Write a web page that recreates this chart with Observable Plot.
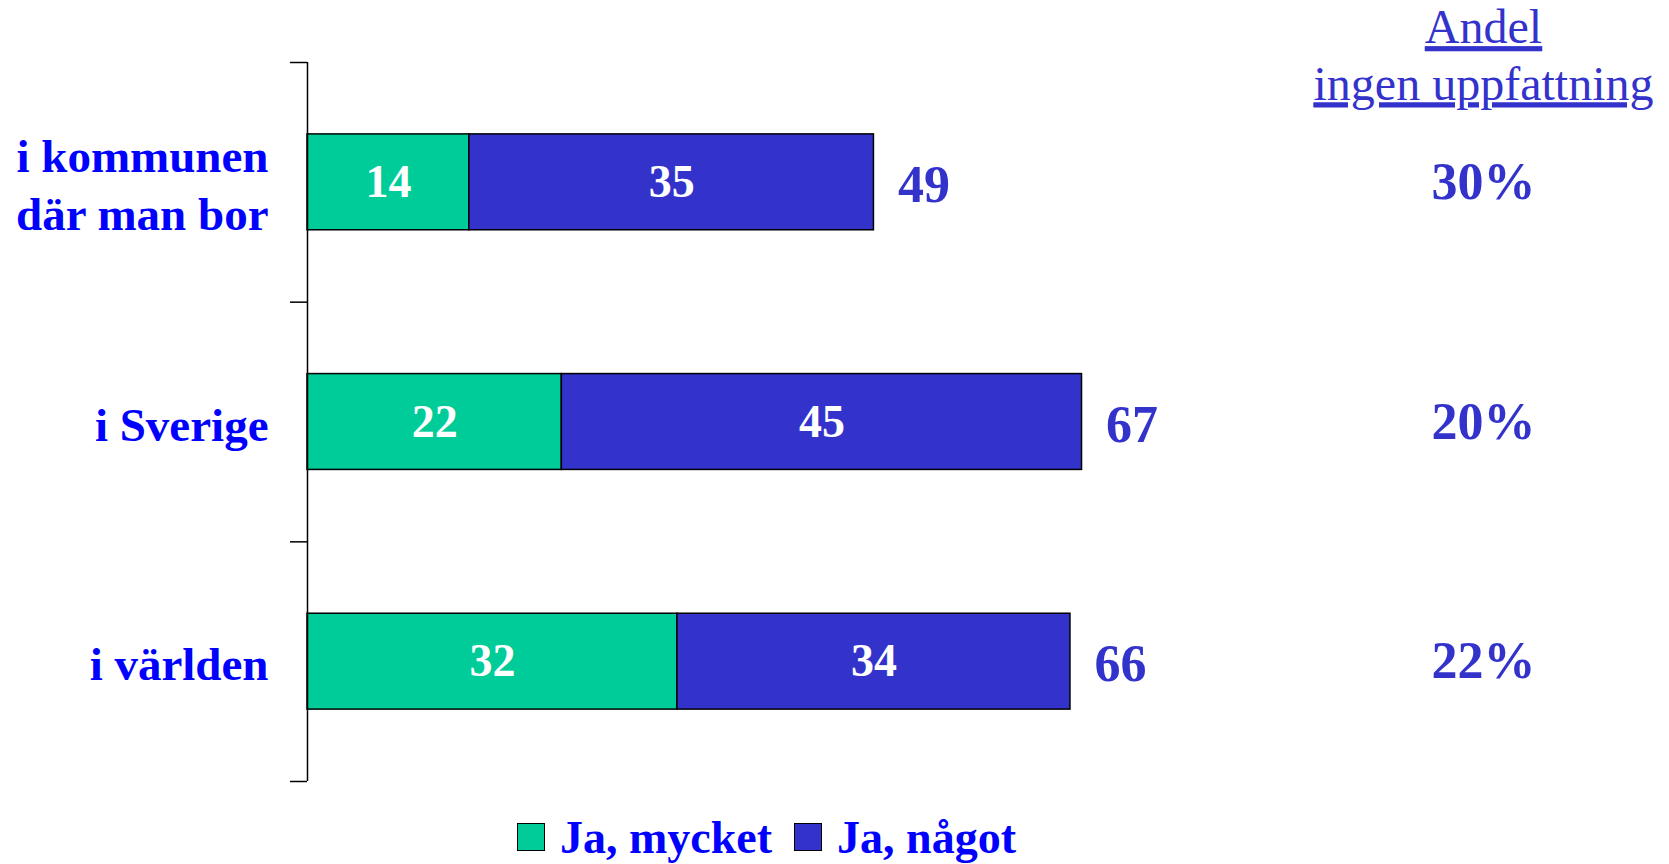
<!DOCTYPE html>
<html>
<head>
<meta charset="utf-8">
<script src="https://cdn.jsdelivr.net/npm/d3@7"></script>
<script src="https://cdn.jsdelivr.net/npm/@observablehq/plot@0.6"></script>
<style>
  html, body { margin: 0; padding: 0; background: #fff; }
  #chart svg { display: block; }
  .legend { height: 54px; display: flex; align-items: center; padding-left: 517px;
            font-family: "Liberation Serif", "Times New Roman", serif; font-weight: bold;
            font-size: 46px; color: #0000FF; }
  .legend .sw { width: 26px; height: 26px; border: 1.5px solid #000; margin-right: 15px; }
  .legend .item { display: flex; align-items: center; margin-right: 22px; }
</style>
</head>
<body>
<div id="chart"></div>
<script>
// ---- data ----
const categories = ["i kommunen\ndär man bor", "i Sverige", "i världen"];
const series = ["Ja, mycket", "Ja, något"];
const colors = ["#00CC99", "#3333CC"];
const mycket = [14, 22, 32];
const nagot = [35, 45, 34];
const totals = [49, 67, 66];
const ingenUppfattning = [30, 20, 22];
const headerText = "Andel\ningen uppfattning";

// ---- build table ----
const rows = [];
categories.forEach((c, i) => {
  rows.push({cat: c, i, series: series[0], value: mycket[i], x1: 0, x2: mycket[i]});
  rows.push({cat: c, i, series: series[1], value: nagot[i], x1: mycket[i], x2: mycket[i] + nagot[i]});
});
const totalRows = categories.map((c, i) => ({cat: c, i, total: totals[i], share: ingenUppfattning[i]}));

const W = 1669, H = 810;
const serif = "Liberation Serif, Times New Roman, serif";

const plot = Plot.plot({
  width: W,
  height: H,
  marginLeft: 307,
  marginRight: 186,
  marginTop: 62,
  marginBottom: 29,
  style: {background: "#fff", fontFamily: serif},
  x: {domain: [0, 100], range: [307, 1463], axis: null},
  y: {domain: [0, categories.length], range: [62, 781], axis: null},
  color: {domain: series, range: colors},
  marks: [
    Plot.rect(rows, {x1: "x1", x2: "x2", y1: d => d.i + 0.3, y2: d => d.i + 0.7,
      fill: "series", stroke: "#000", strokeWidth: 1.5}),
    Plot.ruleX([0], {stroke: "#000", strokeWidth: 1.5}),
    Plot.ruleY(d3.range(categories.length + 1), {x1: -1.47, x2: 0, stroke: "#000", strokeWidth: 1.5, clip: false}),
    Plot.text(rows, {x: d => (d.x1 + d.x2) / 2, y: d => d.i + 0.5, text: d => String(d.value),
      fill: "#fff", fontSize: 46, fontWeight: "bold", fontFamily: serif}),
    Plot.text(totalRows, {x: "total", y: d => d.i + 0.5, text: d => String(d.total), dx: 24, dy: 3,
      textAnchor: "start", fill: "#3333CC", fontSize: 52, fontWeight: "bold", fontFamily: serif}),
    Plot.text(totalRows, {frameAnchor: "right", y: d => d.i + 0.5, text: d => d.share + "%",
      textAnchor: "middle", fill: "#3333CC", fontSize: 52, fontWeight: "bold", fontFamily: serif}),
    Plot.text(categories, {x: 0, y: (d, i) => i + 0.5, text: d => d, dx: -39, textAnchor: "end",
      fill: "#0000FF", fontSize: 47, fontWeight: "bold", fontFamily: serif, lineHeight: 1.245}),
    Plot.text([headerText], {frameAnchor: "top-right", text: d => d, textAnchor: "middle",
      lineAnchor: "bottom", dy: 37, fill: "#3333CC", fontSize: 48, fontFamily: serif,
      lineHeight: 1.17, ariaDescription: "header"})
  ]
});

// underline header lines
d3.select(plot).selectAll("g[aria-description='header'] text, g[aria-description='header'] tspan")
  .style("text-decoration", "underline")
  .style("text-decoration-thickness", "3px");

document.getElementById("chart").appendChild(plot);

// legend
const legend = document.createElement("div");
legend.className = "legend";
series.forEach((s, k) => {
  const item = document.createElement("div");
  item.className = "item";
  const sw = document.createElement("div");
  sw.className = "sw";
  sw.style.background = colors[k];
  const label = document.createElement("span");
  label.textContent = s;
  item.appendChild(sw);
  item.appendChild(label);
  legend.appendChild(item);
});
document.getElementById("chart").appendChild(legend);
</script>
</body>
</html>
